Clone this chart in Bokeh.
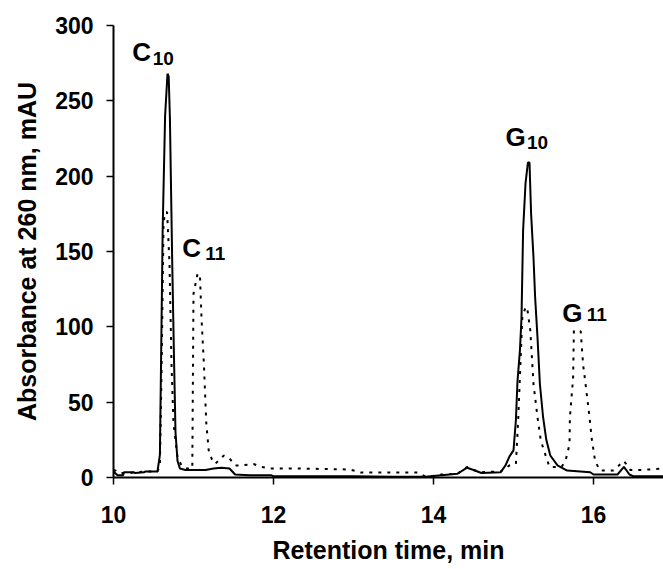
from bokeh.plotting import figure
from bokeh.models import Range1d, FixedTicker, ColumnDataSource
from bokeh.core.properties import value
from bokeh.embed import file_html
from bokeh.resources import INLINE

# ---- data ----
solid_time = [10.00, 10.02, 10.05, 10.12, 10.13, 10.25, 10.27, 10.38, 10.40, 10.55,
              10.58, 10.595, 10.615, 10.645, 10.675, 10.69, 10.705, 10.735, 10.755, 10.775,
              10.80, 10.83, 10.90, 11.00, 11.15, 11.25, 11.35, 11.45, 11.52, 11.70,
              11.97, 12.00, 13.00, 13.50, 13.90, 14.00, 14.20, 14.30, 14.42, 14.50,
              14.60, 14.84, 14.90, 14.95, 15.00, 15.03, 15.05, 15.08, 15.10, 15.12,
              15.15, 15.18, 15.20, 15.22, 15.25, 15.27, 15.30, 15.33, 15.37, 15.41,
              15.46, 15.55, 15.67, 15.96, 16.00, 16.30, 16.38, 16.45, 16.50, 16.90]
solid_abs = [4, 3, 1.5, 1.5, 3.5, 3.5, 3, 3.5, 4, 4,
             15, 79, 166, 240, 268, 266, 239, 140, 83, 30,
             11, 6, 5, 5, 5, 6, 6.5, 6, 2, 1.5,
             1.5, 0.8, 0.8, 0.5, 0.5, 1, 2, 2.5, 6.5, 5,
             3, 3.5, 8, 14, 18, 38, 64, 84, 106, 164,
             195, 209, 209, 175, 146, 120, 93, 62, 40, 25,
             14.6, 8, 4.6, 3.5, 2, 2, 7, 2, 0.8, 0.8]

dotted_time = [10.00, 10.03, 10.06, 10.20, 10.40, 10.55, 10.58, 10.60, 10.625, 10.64,
               10.67, 10.70, 10.725, 10.75, 10.80, 10.85, 10.90, 10.985, 11.00, 11.05,
               11.08, 11.10, 11.13, 11.16, 11.19, 11.23, 11.27, 11.33, 11.38, 11.46,
               11.52, 11.60, 11.75, 11.85, 11.96, 12.25, 12.96, 13.09, 13.80, 13.90,
               13.96, 14.10, 14.30, 14.42, 14.50, 14.60, 14.84, 14.95, 15.03, 15.06,
               15.09, 15.11, 15.15, 15.17, 15.21, 15.25, 15.30, 15.34, 15.38, 15.45,
               15.60, 15.65, 15.70, 15.705, 15.745, 15.755, 15.80, 15.84, 15.87, 15.91,
               15.95, 15.98, 16.02, 16.08, 16.25, 16.38, 16.46, 16.60, 16.90]
dotted_abs = [5, 4.5, 3, 3, 4, 4, 8, 68, 166, 176,
              176, 142, 75, 36, 13.5, 8, 6, 6, 122, 135,
              135, 106, 75, 36, 18, 12, 9, 12, 14.6, 12,
              8, 8, 9, 7, 6, 6, 5.3, 3.3, 3.3, 0.6,
              0.8, 2, 2.5, 7, 5, 3.5, 4, 8, 9, 40,
              80, 106, 113, 113, 97.6, 62, 40, 25, 18, 7,
              7, 11, 22, 40, 66, 97.6, 97.6, 97, 75, 58,
              40, 25, 11, 4.6, 4.6, 11, 5, 5, 6]

peak_letters = ["C", "C", "G", "G"]
peak_subs = ["10", "11", "10", "11"]
label_time = [10.234, 10.859, 14.90, 15.608]
label_abs = [275.6, 145.4, 219.3, 102.3]

x_ticks = [10, 12, 14, 16]
y_ticks = [0, 50, 100, 150, 200, 250, 300]

# ---- figure ----
FONT = "Liberation Sans"
p = figure(width=663, height=569, output_backend="svg", toolbar_location=None,
           x_range=Range1d(10, 16.875), y_range=Range1d(0, 300),
           min_border_left=113, min_border_right=0, min_border_top=25,
           min_border_bottom=92)
p.outline_line_color = None
p.xgrid.grid_line_color = None
p.ygrid.grid_line_color = None
p.background_fill_color = "white"
p.border_fill_color = "white"

p.line(solid_time, solid_abs, line_color="black", line_width=2)
p.line(dotted_time, dotted_abs, line_color="black", line_width=2, line_dash="3 6")

# peak labels with subscripts
lab_src = ColumnDataSource(dict(x=label_time, y=label_abs, t=peak_letters, s=peak_subs,
                                dx=[20.5, 23.0, 21.5, 24.5], dy=[-4, -5, -5, -9]))
p.text(x="x", y="y", text="t", source=lab_src, y_offset=-10, text_font=value(FONT),
       text_font_style="bold", text_font_size="26px", text_color="black",
       text_align="left", text_baseline="alphabetic")
p.text(x="x", y="y", text="s", source=lab_src, x_offset="dx", y_offset="dy",
       text_font=value(FONT), text_font_style="bold", text_font_size="19px",
       text_color="black", text_align="left", text_baseline="alphabetic")

for ax in (p.xaxis[0], p.yaxis[0]):
    ax.axis_line_color = "black"
    ax.axis_line_width = 2
    ax.major_tick_line_color = "black"
    ax.major_tick_line_width = 1.5
    ax.major_tick_in = 0
    ax.major_tick_out = 7
    ax.minor_tick_line_color = None
    ax.major_label_text_font = FONT
    ax.major_label_text_font_style = "bold"
    ax.major_label_text_font_size = "23px"
    ax.major_label_text_color = "black"
    ax.axis_label_text_font = FONT
    ax.axis_label_text_font_style = "bold"
    ax.axis_label_text_font_size = "25px"
    ax.axis_label_text_color = "black"

p.xaxis.ticker = FixedTicker(ticks=x_ticks)
p.yaxis.ticker = FixedTicker(ticks=y_ticks)
p.xaxis.axis_label = "Retention time, min"
p.yaxis.axis_label = "Absorbance at 260 nm, mAU"
p.xaxis.major_label_standoff = 21
p.yaxis.major_label_standoff = 13
p.xaxis.axis_label_standoff = 10
p.yaxis.axis_label_standoff = 11

open("out.html", "w").write(file_html(p, INLINE))
